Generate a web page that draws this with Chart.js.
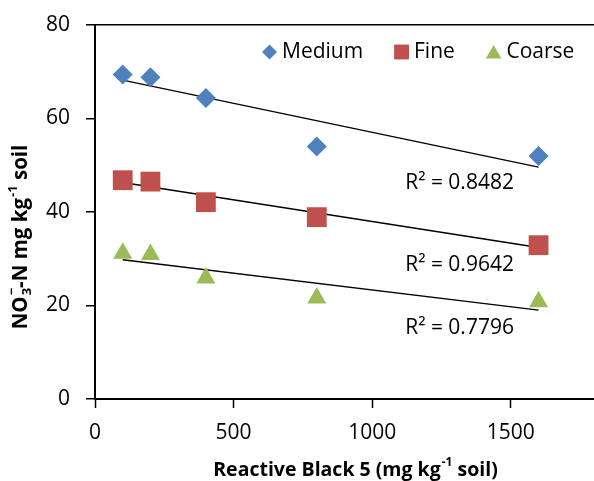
<!DOCTYPE html>
<html>
<head>
<meta charset="utf-8">
<script src="https://cdn.jsdelivr.net/npm/chart.js@4.4.0/dist/chart.umd.min.js"></script>
<style>
  html, body { margin: 0; padding: 0; background: #fff; }
  #wrap { width: 594px; height: 481px; }
</style>
</head>
<body>
<div id="wrap"><canvas id="nitrateChart"></canvas></div>
<script>
// dye dose (mg kg-1 soil)
const doses = [100, 200, 400, 800, 1600];
// NO3- -N (mg kg-1 soil)
const medium = [69.4, 68.8, 64.4, 54.0, 52.0];
const fine = [46.8, 46.5, 42.1, 38.9, 32.9];
const coarse = [31.2, 30.9, 25.9, 21.6, 20.8];
// linear trendline ends at x = 100 and x = 1600
const trendEnds = [100, 1600];
const mediumTrend = [68.2, 49.6];
const fineTrend = [46.3, 32.4];
const coarseTrend = [29.8, 19.0];
const r2Labels = ['R² = 0.8482', 'R² = 0.9642', 'R² = 0.7796'];
const r2LabelX = [1315, 1315, 1315];
const r2LabelY = [46.3, 28.6, 15.1];
const xTicks = [0, 500, 1000, 1500];

// axis titles as runs: n = normal, sup = superscript, subsup = stacked sub + sup
const xTitle = [['n', 'Reactive Black 5 (mg kg'], ['sup', '-1'], ['n', ' soil)']];
const yTitle = [['n', 'NO'], ['subsup', '3', '\u2212'], ['n', '-N mg kg'], ['sup', '-1'], ['n', ' soil']];

const FONT = "'Open Sans', 'DejaVu Sans', sans-serif";

function toPoints(xs, ys) {
    return xs.map((x, i) => ({ x: x, y: ys[i] }));
}

function trendSet(ys) {
    return {
        type: 'line',
        label: 'trend',
        data: toPoints(trendEnds, ys),
        borderColor: '#000',
        borderWidth: 1.4,
        pointRadius: 0,
        fill: false,
        showLine: true
    };
}

const r2Plugin = {
    id: 'r2Plugin',
    afterDatasetsDraw(chart) {
        const ctx = chart.ctx;
        const xs = chart.scales.x, ys = chart.scales.y;
        ctx.save();
        ctx.font = '21px ' + FONT;
        ctx.fillStyle = '#000';
        ctx.textAlign = 'center';
        ctx.textBaseline = 'middle';
        r2Labels.forEach((t, i) => {
            ctx.fillText(t, xs.getPixelForValue(r2LabelX[i]), ys.getPixelForValue(r2LabelY[i]));
        });
        ctx.restore();
    }
};

// legend drawn inside the plot, top right, like the spreadsheet version
const legendPlugin = {
    id: 'insideLegend',
    afterDraw(chart) {
        const ctx = chart.ctx;
        const sizes = { rectRot: 7.5, rect: 10.5, triangle: 9 };
        let x = 262;
        const y = 52;
        ctx.save();
        ctx.font = '21px ' + FONT;
        ctx.textBaseline = 'middle';
        chart.data.datasets.forEach(ds => {
            if (ds.label === 'trend') return;
            const r = sizes[ds.pointStyle];
            const half = ds.pointStyle === 'rect' ? r * Math.SQRT1_2 : (ds.pointStyle === 'triangle' ? r * 0.87 : r);
            const cx = x + half;
            ctx.fillStyle = ds.backgroundColor;
            ctx.strokeStyle = ds.backgroundColor;
            Chart.helpers.drawPoint(ctx, { pointStyle: ds.pointStyle, radius: r, borderWidth: 0 }, cx, ds.pointStyle === 'triangle' ? y + 2 : y);
            ctx.fillStyle = '#000';
            const tx = cx + half + 5;
            ctx.fillText(ds.label, tx, y);
            x = tx + ctx.measureText(ds.label).width + 31;
        });
        ctx.restore();
    }
};

// axis titles with real super/subscripts
function runWidth(ctx, runs, big, small) {
    let w = 0;
    runs.forEach(r => {
        if (r[0] === 'n') { ctx.font = big; w += ctx.measureText(r[1]).width; }
        else {
            ctx.font = small;
            w += Math.max(...r.slice(1).map(t => ctx.measureText(t).width)) + 1;
        }
    });
    return w;
}

function drawRuns(ctx, runs, big, small, size) {
    let x = -runWidth(ctx, runs, big, small) / 2;
    ctx.textAlign = 'left';
    ctx.textBaseline = 'middle';
    runs.forEach(r => {
        if (r[0] === 'n') {
            ctx.font = big;
            ctx.fillText(r[1], x, 0);
            x += ctx.measureText(r[1]).width;
        } else {
            ctx.font = small;
            let w = 0;
            if (r[0] === 'sup') {
                ctx.fillText(r[1], x + 1, -size * 0.38);
                w = ctx.measureText(r[1]).width;
            } else {
                ctx.fillText(r[1], x + 1, size * 0.32);
                ctx.fillText(r[2], x + 1, -size * 0.42);
                w = Math.max(ctx.measureText(r[1]).width, ctx.measureText(r[2]).width);
            }
            x += w + 1;
        }
    });
}

const titlePlugin = {
    id: 'axisTitles',
    afterDraw(chart) {
        const ctx = chart.ctx;
        const a = chart.chartArea;
        ctx.save();
        ctx.fillStyle = '#000';
        ctx.translate((a.left + a.right) / 2 + 11, chart.height - 11);
        drawRuns(ctx, xTitle, 'bold 19.5px ' + FONT, 'bold 12px ' + FONT, 19.5);
        ctx.restore();
        ctx.save();
        ctx.fillStyle = '#000';
        ctx.translate(21, (a.top + a.bottom) / 2 + 25);
        ctx.rotate(-Math.PI / 2);
        drawRuns(ctx, yTitle, 'bold 20.5px ' + FONT, 'bold 13px ' + FONT, 20.5);
        ctx.restore();
    }
};

new Chart(document.getElementById('nitrateChart'), {
    type: 'scatter',
    data: {
        datasets: [
            {
                label: 'Medium',
                data: toPoints(doses, medium),
                pointStyle: 'rectRot',
                pointRadius: 10,
                backgroundColor: '#4F81BD',
                borderColor: '#4F81BD',
                borderWidth: 0
            },
            {
                label: 'Fine',
                data: toPoints(doses, fine),
                pointStyle: 'rect',
                pointRadius: 14,
                backgroundColor: '#C0504D',
                borderColor: '#C0504D',
                borderWidth: 0
            },
            {
                label: 'Coarse',
                data: toPoints(doses, coarse),
                pointStyle: 'triangle',
                pointRadius: 11,
                backgroundColor: '#9BBB59',
                borderColor: '#9BBB59',
                borderWidth: 0
            },
            trendSet(mediumTrend),
            trendSet(fineTrend),
            trendSet(coarseTrend)
        ]
    },
    options: {
        responsive: true,
        maintainAspectRatio: false,
        animation: false,
        layout: { autoPadding: false, padding: { top: 25, right: -4, left: 0, bottom: 0 } },
        plugins: {
            tooltip: { enabled: false },
            legend: { display: false }
        },
        scales: {
            x: {
                type: 'linear',
                min: 0,
                max: 1800,
                afterFit: s => { s.height = 82; s.paddingRight = 0; s.paddingLeft = 0; },
                afterBuildTicks: s => { s.ticks = xTicks.map(v => ({ value: v })); },
                border: { color: '#000', width: 2 },
                grid: { color: 'transparent', tickColor: '#000', tickLength: 9, tickWidth: 1.5 },
                ticks: { color: '#000', padding: 12, font: { family: FONT, size: 21 }, callback: v => String(v) }
            },
            y: {
                min: 0,
                max: 80,
                afterFit: s => { s.width = 95; s.paddingTop = 0; s.paddingBottom = 0; },
                border: { color: '#000', width: 2 },
                grid: {
                    color: c => (c.tick && c.tick.value === 80 ? '#000' : 'transparent'),
                    lineWidth: 1.5,
                    tickColor: '#000',
                    tickLength: 9,
                    tickWidth: 1.5
                },
                ticks: { stepSize: 20, color: '#000', padding: 16, font: { family: FONT, size: 21 } }
            }
        }
    },
    plugins: [r2Plugin, legendPlugin, titlePlugin]
});
</script>
</body>
</html>
